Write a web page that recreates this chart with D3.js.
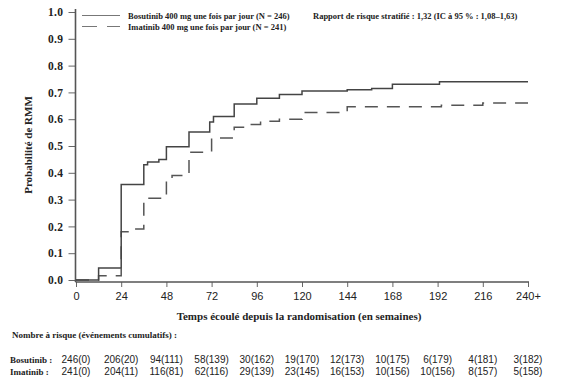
<!DOCTYPE html>
<html>
<head>
<meta charset="utf-8">
<script src="https://cdn.jsdelivr.net/npm/d3@7"></script>
<style>
	body { margin: 0; background: #fff; }
	svg { display: block; }
	.serif { font-family: 'Liberation Serif', 'Times New Roman', serif; font-weight: bold; fill: #222; }
	.sans { font-family: 'Liberation Sans', Arial, sans-serif; fill: #222; }
</style>
</head>
<body>
<svg id="chart" width="562" height="388"></svg>
<script>
// Kaplan-Meier steps (weeks, probability)
const bosTimes = [0, 12, 24, 36, 38, 44, 48, 60, 71, 73, 84, 96, 108, 120, 144, 157, 168, 193, 240];
const bosValues = [0, 0.045, 0.356, 0.43, 0.44, 0.45, 0.497, 0.552, 0.59, 0.61, 0.657, 0.678, 0.692, 0.705, 0.71, 0.715, 0.73, 0.74, 0.74];

const imaTimes = [0, 12, 24, 30, 36, 48, 51, 60, 72, 84, 90, 98, 108, 120, 144, 194, 216, 240];
const imaValues = [0, 0.016, 0.18, 0.19, 0.305, 0.38, 0.39, 0.477, 0.53, 0.57, 0.58, 0.592, 0.6, 0.625, 0.646, 0.652, 0.66, 0.66];

const xTicks = [0, 24, 48, 72, 96, 120, 144, 168, 192, 216, 240];
const xTickLabels = ['0', '24', '48', '72', '96', '120', '144', '168', '192', '216', '240+'];
const yTicks = [0, 0.1, 0.2, 0.3, 0.4, 0.5, 0.6, 0.7, 0.8, 0.9, 1.0];

const bosRisk = ['246(0)', '206(20)', '94(111)', '58(139)', '30(162)', '19(170)', '12(173)', '10(175)', '6(179)', '4(181)', '3(182)'];
const imaRisk = ['241(0)', '204(11)', '116(81)', '62(116)', '29(139)', '23(145)', '16(153)', '10(156)', '10(156)', '8(157)', '5(158)'];

const svg = d3.select('#chart');

const x = d3.scaleLinear().domain([0, 240]).range([76, 528]);
const y = d3.scaleLinear().domain([0, 1]).range([280, 12]);
const axisY = 282;
const axisX = 75.5;

// y axis
const yAxis = d3.axisLeft(y)
	.tickValues(yTicks)
	.tickFormat(d3.format('.1f'))
	.tickSize(7)
	.tickPadding(5);
svg.append('g')
	.attr('transform', `translate(${axisX},0)`)
	.call(yAxis)
	.call((g) => g.select('.domain').remove())
	.call((g) => g.selectAll('line').attr('stroke', '#666'))
	.call((g) => g.selectAll('text')
		.attr('class', 'serif')
		.style('font-size', '11.5px')
		.style('letter-spacing', '0.4px'));

svg.append('line')
	.attr('x1', axisX).attr('x2', axisX)
	.attr('y1', 9).attr('y2', axisY)
	.attr('stroke', '#555').attr('stroke-width', 1.6);

// x axis
const xAxis = d3.axisBottom(x)
	.tickValues(xTicks)
	.tickFormat((d, i) => xTickLabels[i])
	.tickSize(5)
	.tickPadding(5);
svg.append('g')
	.attr('transform', `translate(0,${axisY})`)
	.call(xAxis)
	.call((g) => g.select('.domain').remove())
	.call((g) => g.selectAll('line').attr('stroke', '#666'))
	.call((g) => g.selectAll('text')
		.attr('class', 'sans')
		.style('font-size', '11px'));

svg.append('line')
	.attr('x1', axisX).attr('x2', x(240) + 1)
	.attr('y1', axisY).attr('y2', axisY)
	.attr('stroke', '#555').attr('stroke-width', 1.6);

// curves
const line = d3.line()
	.x((d) => x(d[0]))
	.y((d) => y(d[1]))
	.curve(d3.curveStepAfter);

svg.append('path')
	.attr('d', line(d3.zip(imaTimes, imaValues)))
	.attr('fill', 'none')
	.attr('stroke', '#555')
	.attr('stroke-width', 1.5)
	.attr('stroke-dasharray', '13,9');

svg.append('path')
	.attr('d', line(d3.zip(bosTimes, bosValues)))
	.attr('fill', 'none')
	.attr('stroke', '#444')
	.attr('stroke-width', 1.5);

// legend
svg.append('line')
	.attr('x1', 82).attr('x2', 120).attr('y1', 15.5).attr('y2', 15.5)
	.attr('stroke', '#777').attr('stroke-width', 1.2);
svg.append('line')
	.attr('x1', 82).attr('x2', 120).attr('y1', 26.5).attr('y2', 26.5)
	.attr('stroke', '#777').attr('stroke-width', 1.2)
	.attr('stroke-dasharray', '15,10');

svg.append('text').attr('class', 'serif').attr('x', 128).attr('y', 19)
	.style('font-size', '8.5px')
	.text('Bosutinib 400 mg une fois par jour (N = 246)');
svg.append('text').attr('class', 'serif').attr('x', 128).attr('y', 30)
	.style('font-size', '8.5px')
	.text('Imatinib 400 mg une fois par jour (N = 241)');

svg.append('text').attr('class', 'serif').attr('x', 313).attr('y', 19)
	.style('font-size', '8.5px')
	.text('Rapport de risque stratifié : 1,32 (IC à 95 % : 1,08–1,63)');

// axis titles
svg.append('text').attr('class', 'serif')
	.attr('transform', 'translate(32,145) rotate(-90)')
	.attr('text-anchor', 'middle')
	.style('font-size', '11px')
	.text('Probabilité de RMM');

svg.append('text').attr('class', 'serif')
	.attr('x', 299).attr('y', 320)
	.attr('text-anchor', 'middle')
	.style('font-size', '11px')
	.text('Temps écoulé depuis la randomisation (en semaines)');

// number at risk table
svg.append('text').attr('class', 'serif').attr('x', 12).attr('y', 338)
	.style('font-size', '9px')
	.text('Nombre à risque (événements cumulatifs) :');

const rows = [
	{ label: 'Bosutinib :', values: bosRisk, y: 363 },
	{ label: 'Imatinib :', values: imaRisk, y: 375 },
];

rows.forEach((row) => {
	svg.append('text').attr('class', 'serif').attr('x', 10).attr('y', row.y)
		.style('font-size', '9px')
		.text(row.label);
	svg.append('g')
		.selectAll('text')
		.data(row.values)
		.enter()
		.append('text')
		.attr('class', 'sans')
		.attr('x', (d, i) => x(xTicks[i]))
		.attr('y', row.y)
		.attr('text-anchor', 'middle')
		.style('font-size', '10px')
		.text((d) => d);
});
</script>
</body>
</html>
